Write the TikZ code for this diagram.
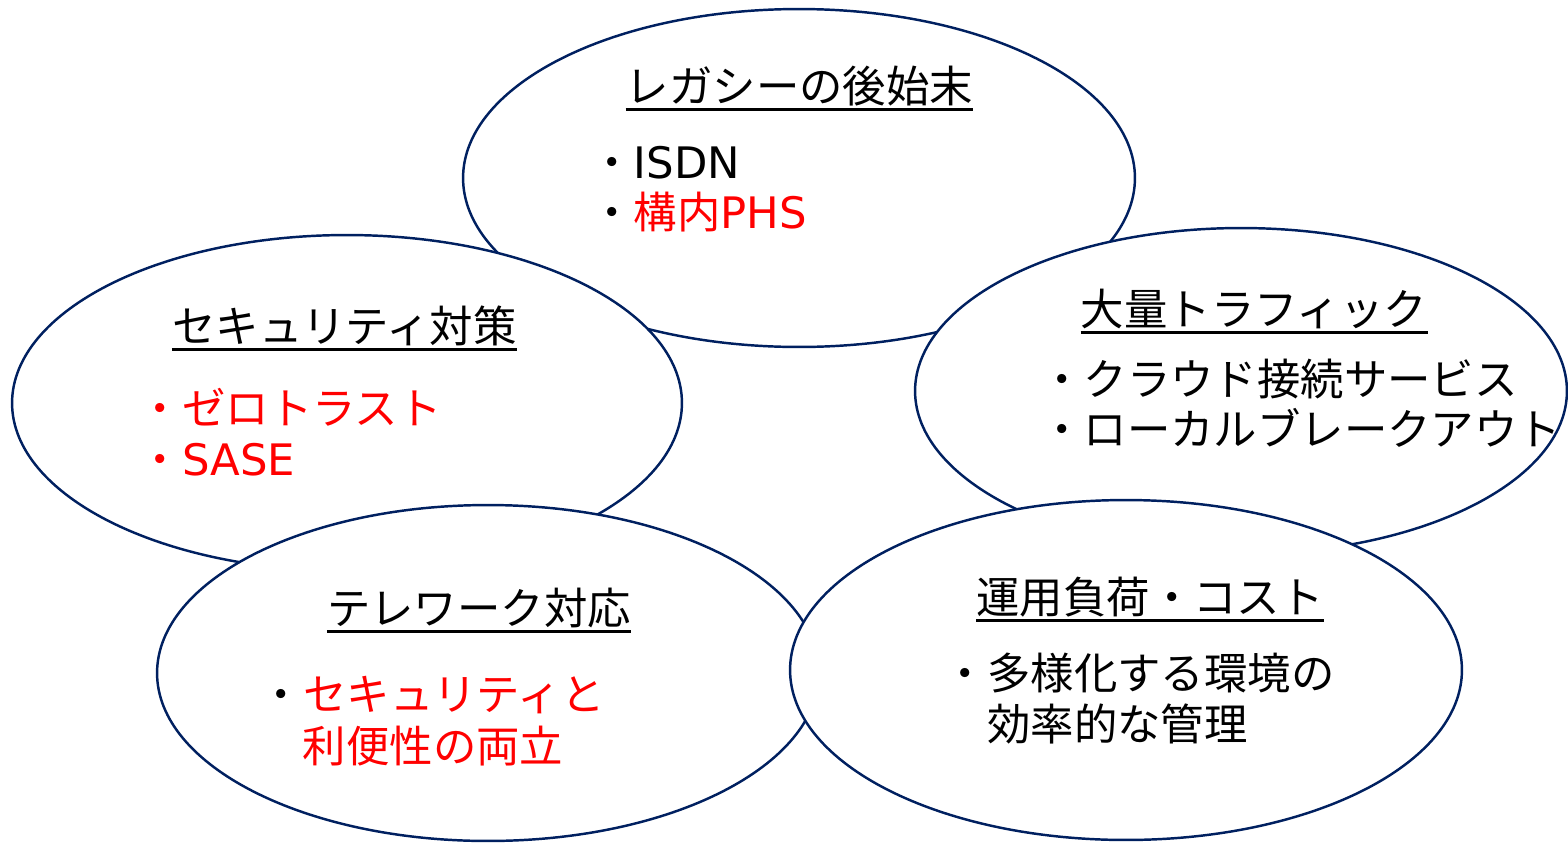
\documentclass[tikz,border=0pt]{standalone}
\usepackage{fontspec}
\setmainfont{Noto Sans CJK JP}
\newfontfamily\lat{DejaVu Sans}
\usetikzlibrary{shapes.geometric}
\definecolor{navy}{RGB}{0,32,96}
\tikzset{
  bubble/.style={draw=navy, line width=1.4pt, fill=white, ellipse, inner sep=0pt},
  title/.style={anchor=base, inner sep=0pt},
  item/.style={anchor=base west, inner sep=0pt},
  uline/.style={line width=1.7pt},
}
\begin{document}
\begin{tikzpicture}[x=0.02cm, y=-0.02cm, font=\fontsize{24.7}{30}\selectfont]
  \useasboundingbox (0,0) rectangle (1568,842);

  % legacy
  \node[bubble, minimum width=13.44cm, minimum height=6.76cm] (leg) at (799,178) {};
  \node[title] (legT) at (799.5,102) {レガシーの後始末};
  \node[item] (legA) at (590,178) {・{\lat ISDN}};
  \node[item] (legB) at (590,228) {・\textcolor{red}{構内{\lat PHS}}};

  % security
  \node[bubble, minimum width=13.40cm, minimum height=6.72cm] (sec) at (347,403) {};
  \node[title] (secT) at (344.5,342) {セキュリティ対策};
  \node[item, red] (secA) at (138.5,424) {・ゼロトラスト};
  \node[item, red] (secB) at (138.5,475) {・{\lat SASE}};

  % traffic
  \node[bubble, minimum width=13.04cm, minimum height=6.52cm] (traf) at (1241,391) {};
  \node[title] (trafT) at (1254,325) {大量トラフィック};
  \node[item] (trafA) at (1040,395) {・クラウド接続サービス};
  \node[item] (trafB) at (1040,445) {・ローカルブレークアウト};

  % telework
  \node[bubble, minimum width=13.24cm, minimum height=6.72cm] (tele) at (488,673) {};
  \node[title] (teleT) at (479,624) {テレワーク対応};
  \node[item] (teleA) at (259.5,710) {・\textcolor{red}{セキュリティと}};
  \node[item, red] (teleB) at (302.5,762) {利便性の両立};

  % cost
  \node[bubble, minimum width=13.44cm, minimum height=6.80cm] (cost) at (1126,670) {};
  \node[title] (costT) at (1150,613) {運用負荷・コスト};
  \node[item] (costA) at (943.5,689) {・多様化する環境の};
  \node[item] (costB) at (987,740) {効率的な管理};

  % underlines
  \foreach \t in {legT,secT,trafT,teleT,costT}
    \draw[uline] ([yshift=-0.15cm]\t.base west) -- ([yshift=-0.15cm]\t.base east);
\end{tikzpicture}
\end{document}
